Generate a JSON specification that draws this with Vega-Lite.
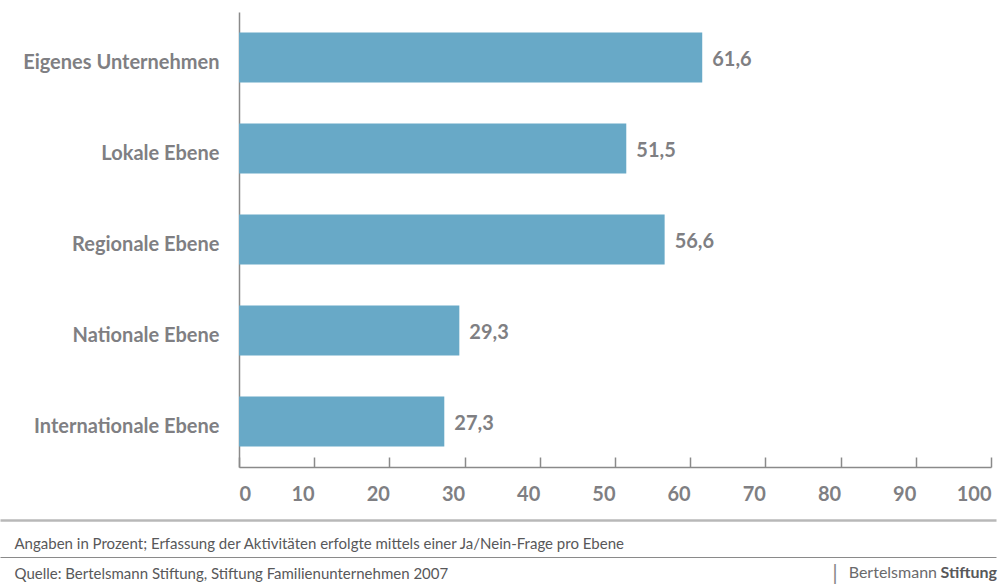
{
  "$schema": "https://vega.github.io/schema/vega-lite/v6.json",
  "background": "white",
  "padding": {"left": 14, "top": 12, "right": 0, "bottom": 0},
  "width": 752,
  "height": 455,
  "config": {
    "view": {"stroke": null},
    "font": "Lato, sans-serif",
    "locale": {"number": {"decimal": ",", "thousands": ".", "grouping": [3], "currency": ["", " €"]}}
  },
  "datasets": {
    "ebenen": [
      {"ebene": "Eigenes Unternehmen", "wert": 61.6},
      {"ebene": "Lokale Ebene", "wert": 51.5},
      {"ebene": "Regionale Ebene", "wert": 56.6},
      {"ebene": "Nationale Ebene", "wert": 29.3},
      {"ebene": "Internationale Ebene", "wert": 27.3}
    ],
    "logo1": [{"text": "Bertelsmann"}],
    "logo2": [{"text": "Stiftung"}],
    "logobar": [{"text": "|"}]
  },
  "layer": [
    {
      "data": {"name": "ebenen"},
      "mark": {"type": "bar", "color": "#68a9c7"},
      "encoding": {
        "y": {
          "field": "ebene", "type": "nominal", "sort": null,
          "scale": {"paddingInner": 0.45, "paddingOuter": 0.225},
          "axis": {
            "title": null, "ticks": false, "labelPadding": 20, "labelOffset": 5, "labelFontSize": 20, "labelFontWeight": "bold",
            "labelColor": "#7f7f83", "labelLimit": 400, "domainColor": "#8a8a8a", "domainWidth": 1.5
          }
        },
        "x": {
          "field": "wert", "type": "quantitative",
          "scale": {"domain": [0, 100], "nice": false},
          "axis": {
            "title": null, "values": [0, 10, 20, 30, 40, 50, 60, 70, 80, 90, 100],
            "grid": false, "tickSize": -10, "tickColor": "#8a8a8a", "tickWidth": 1.5,
            "domainColor": "#8a8a8a", "domainWidth": 1.5,
            "labelPadding": 27, "labelFontSize": 20, "labelFontWeight": "bold", "labelColor": "#7f7f83",
            "labelAlign": {"condition": {"test": "datum.value === 0", "value": "left"}, "value": "right"},
            "labelOverlap": false, "labelFlush": false
          }
        }
      }
    },
    {
      "data": {"name": "ebenen"},
      "mark": {"type": "text", "align": "left", "baseline": "middle", "dx": 10, "dy": 2, "fontSize": 20, "fontWeight": "bold", "color": "#7f7f83"},
      "encoding": {
        "y": {"field": "ebene", "type": "nominal", "sort": null},
        "x": {"field": "wert", "type": "quantitative", "scale": {"domain": [0, 100], "nice": false}, "axis": null},
        "text": {"field": "wert", "type": "quantitative", "format": ".1f"}
      }
    },
    {
      "data": {"name": "logo2"},
      "mark": {"type": "text", "align": "right", "baseline": "middle", "dx": 1, "dy": 333, "fontSize": 16, "fontWeight": "bold", "color": "#58585a"},
      "encoding": {
        "text": {"field": "text"},
        "x": {
          "datum": 1, "type": "quantitative",
          "scale": {"domain": [0, 1], "range": [-239, 757], "nice": false, "zero": false},
          "axis": {
            "orient": "bottom", "offset": 53, "ticks": false, "labels": false, "grid": false,
            "domainColor": "#b8b8b8", "domainWidth": 2.5,
            "title": "Angaben in Prozent; Erfassung der Aktivitäten erfolgte mittels einer Ja/Nein-Frage pro Ebene",
            "titleX": -225, "titleY": 23, "titleAlign": "left", "titleBaseline": "middle", "titleAngle": 0,
            "titleFontSize": 15, "titleFontWeight": "normal", "titleColor": "#58585a", "titleLimit": 1000
          }
        }
      }
    },
    {
      "data": {"name": "logo1"},
      "mark": {"type": "text", "align": "right", "baseline": "middle", "dx": -59, "dy": 333, "fontSize": 16, "color": "#6a6a6c"},
      "encoding": {
        "text": {"field": "text"},
        "x": {
          "datum": 1, "type": "quantitative",
          "scale": {"domain": [0, 1], "range": [-239, 757], "nice": false, "zero": false},
          "axis": {
            "orient": "bottom", "offset": 90, "ticks": false, "labels": false, "grid": false,
            "domainColor": "#8a8a8a", "domainWidth": 1,
            "title": "Quelle: Bertelsmann Stiftung, Stiftung Familienunternehmen 2007",
            "titleX": -225, "titleY": 16, "titleAlign": "left", "titleBaseline": "middle", "titleAngle": 0,
            "titleFontSize": 15, "titleFontWeight": "normal", "titleColor": "#58585a", "titleLimit": 1000
          }
        }
      }
    },
    {
      "data": {"name": "logobar"},
      "mark": {"type": "text", "align": "center", "baseline": "middle", "dx": -161, "dy": 333, "fontSize": 22, "color": "#8a8a8a"},
      "encoding": {
        "text": {"field": "text"},
        "x": {"datum": 1, "type": "quantitative", "scale": {"domain": [0, 1], "range": [-239, 757], "nice": false, "zero": false}, "axis": null}
      }
    }
  ],
  "resolve": {"scale": {"x": "independent"}, "axis": {"x": "independent"}}
}
